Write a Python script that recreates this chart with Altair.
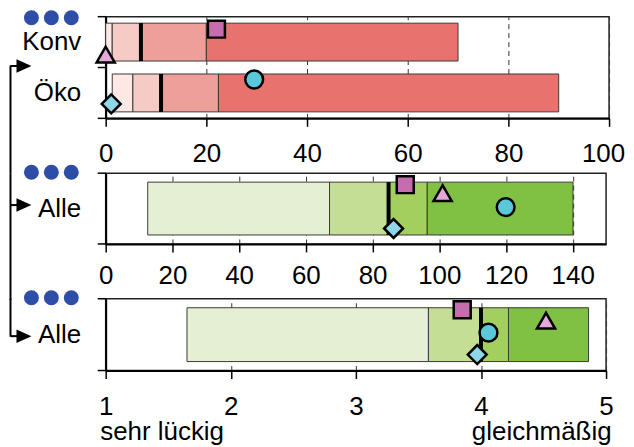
import altair as alt

FONT = "Liberation Sans"

# ---------------- data ----------------
# Panel 1 (0-100): Konv / Öko
rows_1 = ["Konv", "Öko"]
min_1 = [0.0, 1.3]
q1_1 = [1.3, 5.4]
med_1 = [7.0, 11.0]
q3_1 = [20.0, 22.4]
max_1 = [70.0, 90.0]
mk_row_1 = ["Konv", "Konv", "Öko", "Öko"]
mk_kind_1 = ["Quadrat", "Dreieck", "Kreis", "Raute"]
mk_val_1 = [22.0, 0.0, 29.5, 1.1]

# Panel 2 (0-150): Alle
rows_2 = ["Alle"]
min_2 = [12.6]
q1_2 = [67.1]
med_2 = [84.8]
q3_2 = [96.4]
max_2 = [140.1]
mk_row_2 = ["Alle", "Alle", "Alle", "Alle"]
mk_kind_2 = ["Quadrat", "Dreieck", "Kreis", "Raute"]
mk_val_2 = [89.8, 101.0, 119.9, 86.3]

# Panel 3 (1-5): Alle
rows_3 = ["Alle"]
min_3 = [1.65]
q1_3 = [3.58]
med_3 = [4.0]
q3_3 = [4.22]
max_3 = [4.86]
mk_row_3 = ["Alle", "Alle", "Alle", "Alle"]
mk_kind_3 = ["Quadrat", "Dreieck", "Kreis", "Raute"]
mk_val_3 = [3.85, 4.52, 4.06, 3.97]

ticks_1 = [0, 20, 40, 60, 80, 100]
ticks_2 = [0, 20, 40, 60, 80, 100, 120, 140]
ticks_3 = [1, 2, 3, 4, 5]

stufen = ["S1", "S2", "S3", "S4"]
reds = ["#FDE8E6", "#F6CAC5", "#EF9F99", "#E8726D"]
greens = ["#E4EFD4", "#C4DE96", "#A3CF5E", "#80C042"]

# ---------------- styles ----------------
marker_style = {
    "Quadrat": dict(shape="square", fill="#C56DAE", size=290),
    "Dreieck": dict(shape="triangle-up", fill="#E6A8D6", size=330),
    "Kreis": dict(shape="circle", fill="#5BC8D9", size=320),
    "Raute": dict(shape="diamond", fill="#8FD6E8", size=360),
}
offsets_1 = {"Quadrat": -13, "Dreieck": 12.5, "Kreis": -13.5, "Raute": 11}
offsets_2 = {"Quadrat": -24, "Dreieck": -15.5, "Kreis": -1.5, "Raute": 20}
offsets_3 = {"Quadrat": -25, "Dreieck": -14, "Kreis": -2, "Raute": 20}

DOT = "#2E4DA7"
ONE = alt.Data(values=[{}])
LINE_X = -95.5


def decor_dots(y):
    return [
        alt.Chart(ONE).mark_point(shape="circle", size=225, filled=True,
                                  color=DOT, opacity=1).encode(
            x=alt.value(xv), y=alt.value(y))
        for xv in (-74.5, -54.5, -34.5)
    ]


def arrow(ay):
    stem = alt.Chart(ONE).mark_rule(color="black", strokeWidth=2).encode(
        x=alt.value(LINE_X), x2=alt.value(-88), y=alt.value(ay))
    head = alt.Chart(ONE).mark_point(
        shape="M-1,-0.9L1,0L-1,0.9Z", size=225, filled=True,
        color="black", opacity=1).encode(x=alt.value(-82), y=alt.value(ay))
    return [stem, head]


def vline(y1, y2):
    return alt.Chart(ONE).mark_rule(color="black", strokeWidth=2).encode(
        x=alt.value(LINE_X), y=alt.value(y1), y2=alt.value(y2))


def band_ticks(height, n):
    # category-boundary tick marks on the left axis
    step = height / n
    return [
        alt.Chart(ONE).mark_rule(color="black", strokeWidth=1.5).encode(
            x=alt.value(-8), x2=alt.value(0), y=alt.value(i * step))
        for i in range(n + 1)
    ]


def panel(rows, mins, q1s, meds, q3s, maxs, mk_rows, mk_kinds, mk_vals,
          domain, ticks, width, height, bar_h, palette, offsets, label_pad,
          extra, label_offset=0):
    segs = []
    for r, a, b, c, d, e in zip(rows, mins, q1s, meds, q3s, maxs):
        for s, (lo, hi) in zip(stufen, [(a, b), (b, c), (c, d), (d, e)]):
            segs.append({"Gruppe": r, "von": lo, "bis": hi, "Stufe": s})
    meds_data = [{"Gruppe": r, "Median": m} for r, m in zip(rows, meds)]
    mk_data = [{"Gruppe": r, "Art": k, "Wert": v}
               for r, k, v in zip(mk_rows, mk_kinds, mk_vals)]

    xscale = alt.Scale(domain=domain, nice=False, zero=False)
    yscale = alt.Scale(domain=rows, paddingInner=0, paddingOuter=0)
    xaxis = alt.Axis(values=ticks, title=None, grid=True, gridDash=[5, 4],
                     gridColor="#333333", gridWidth=1, tickSize=8,
                     labelPadding=label_pad, labelFlush=False, domainWidth=2,
                     tickWidth=1.5, format="d", labelFontSize=26,
                     labelOffset=label_offset)
    yaxis = alt.Axis(title=None, tickSize=8, tickOpacity=0, labelPadding=17,
                     domainWidth=2, grid=False, labelFontSize=26)

    bars = alt.Chart(alt.Data(values=segs)).mark_bar(
        height=bar_h, stroke="#3a3a3a", strokeWidth=1, opacity=1).encode(
        x=alt.X("von:Q", scale=xscale, axis=xaxis),
        x2="bis:Q",
        y=alt.Y("Gruppe:N", scale=yscale, axis=yaxis, sort=rows),
        color=alt.Color("Stufe:N", scale=alt.Scale(domain=stufen, range=palette),
                        legend=None),
    )
    median = alt.Chart(alt.Data(values=meds_data)).mark_tick(
        color="black", thickness=4, size=bar_h, opacity=1).encode(
        x=alt.X("Median:Q"), y=alt.Y("Gruppe:N", sort=rows))

    layers = [bars, median]
    for kind in ["Quadrat", "Dreieck", "Kreis", "Raute"]:
        if kind not in mk_kinds:
            continue
        st = marker_style[kind]
        layers.append(
            alt.Chart(alt.Data(values=mk_data)).transform_filter(
                alt.datum.Art == kind).mark_point(
                shape=st["shape"], size=st["size"], filled=True, fill=st["fill"],
                stroke="black", strokeWidth=2.5, opacity=1, fillOpacity=1,
                yOffset=offsets[kind]).encode(
                x=alt.X("Wert:Q"), y=alt.Y("Gruppe:N", sort=rows))
        )
    layers += band_ticks(height, len(rows))
    layers += extra
    return alt.layer(*layers).properties(width=width, height=height)


W1, W2, W3 = 505, 502, 502
p1 = panel(rows_1, min_1, q1_1, med_1, q3_1, max_1, mk_row_1, mk_kind_1, mk_val_1,
           [0, 100], ticks_1, W1, 102, 38, reds, offsets_1, 14,
           decor_dots(1) + [vline(49, 157)] + arrow(49.5),
           label_offset={"condition": {"test": "datum.value === 100", "value": -6},
                         "value": 0})
p2 = panel(rows_2, min_2, q1_2, med_2, q3_2, max_2, mk_row_2, mk_kind_2, mk_val_2,
           [0, 150], ticks_2, W2, 71, 53, greens, offsets_2, 11,
           decor_dots(-1) + [vline(0, 127)] + arrow(32))

texts = [
    alt.Chart(ONE).mark_text(text="sehr lückig", align="left", baseline="alphabetic",
                             fontSize=26, font=FONT, color="black").encode(
        x=alt.value(-5.5), y=alt.value(142)),
    alt.Chart(ONE).mark_text(text="gleichmäßig", align="right", baseline="alphabetic",
                             fontSize=26, font=FONT, color="black").encode(
        x=alt.value(W3 + 5.5), y=alt.value(142)),
]
p3 = panel(rows_3, min_3, q1_3, med_3, q3_3, max_3, mk_row_3, mk_kind_3, mk_val_3,
           [1, 5], ticks_3, W3, 72, 54, greens, offsets_3, 15,
           decor_dots(-1) + [vline(0, 38)] + arrow(37.5) + texts)

chart = alt.vconcat(p1, p2, p3, spacing=55, bounds="flush", padding=0).resolve_scale(
    x="independent", y="independent", color="independent"
).configure_view(stroke="#222222", strokeWidth=1.5).configure_axis(
    labelFont=FONT, labelFontSize=26, labelColor="black", tickColor="black",
    domainColor="black"
).configure_text(font=FONT)

chart.save("out.html", embed_options={"renderer": "svg", "actions": False})
